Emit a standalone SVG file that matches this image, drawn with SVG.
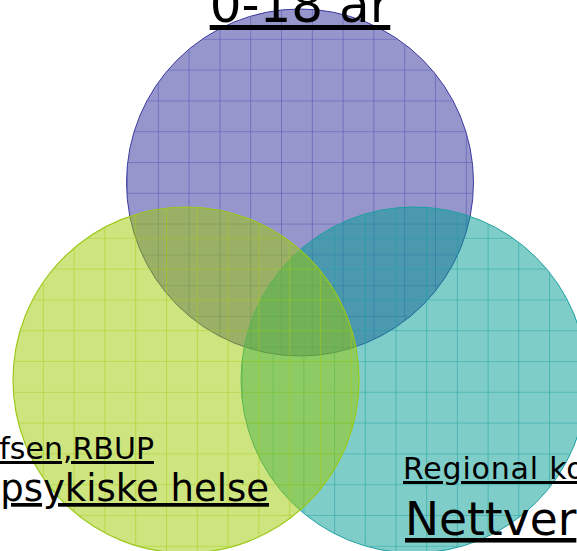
<svg xmlns="http://www.w3.org/2000/svg" width="577" height="551" viewBox="0 0 577 551">
<style>
text{font-family:"DejaVu Sans",Verdana,sans-serif;fill:#000;text-decoration:underline}
.p{fill:#2d2d9b;fill-opacity:.5;stroke:#3a3aa0;stroke-width:1}
.g{fill:#9bc900;fill-opacity:.5;stroke:#9bc91a;stroke-width:1.2}
.t{fill:#009b91;fill-opacity:.5;stroke:#1aa0a0;stroke-width:1}
</style>
<defs>
<pattern id="gp" patternUnits="userSpaceOnUse" x="127" y="8" width="30.8" height="30.8">
<path d="M0 0H30.8M0 0V30.8" fill="none" stroke="#3c3ca8" stroke-width="1.2" stroke-opacity=".7"/>
</pattern>
<pattern id="gg" patternUnits="userSpaceOnUse" x="12" y="207" width="30.8" height="30.8">
<path d="M0 0H30.8M0 0V30.8" fill="none" stroke="#a5cc10" stroke-width="1.2" stroke-opacity=".85"/>
</pattern>
<pattern id="gt" patternUnits="userSpaceOnUse" x="242" y="207" width="30.7" height="30.8">
<path d="M0 0H30.8M0 0V30.8" fill="none" stroke="#169f9f" stroke-width="1.2" stroke-opacity=".85"/>
</pattern>
</defs>
<g id="circle-top">
<circle class="p" cx="300" cy="182.5" r="173.5"/>
<circle cx="300" cy="182.5" r="173" fill="url(#gp)"/>
</g>
<g id="circle-right">
<circle class="t" cx="414" cy="380" r="173"/>
<circle cx="414" cy="380" r="172.5" fill="url(#gt)"/>
</g>
<g id="circle-left">
<circle class="g" cx="186" cy="380" r="173"/>
<circle cx="186" cy="380" r="172.5" fill="url(#gg)"/>
</g>
<g id="connectors"/>
<g id="label-top"><text x="300" y="22" font-size="50" text-anchor="middle">0-18 år</text></g>
<g id="label-left">
<text x="154" y="459" font-size="30" text-anchor="end">fsen,RBUP</text>
<text x="269" y="501" font-size="37" text-anchor="end">psykiske helse</text>
</g>
<g id="label-right">
<text x="403" y="479" font-size="30" letter-spacing="0.8">Regional ko</text>
<text x="405" y="535" font-size="45.5">Nettver</text>
</g>
</svg>
